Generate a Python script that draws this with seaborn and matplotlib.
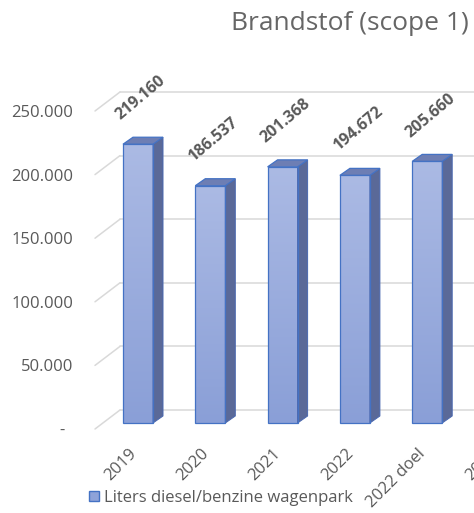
import numpy as np
import pandas as pd
import matplotlib
matplotlib.use("Agg")
import matplotlib.pyplot as plt
import seaborn as sns
from matplotlib.patches import Polygon, Patch
from matplotlib.colors import LinearSegmentedColormap

# ---- data ----
categories = ["2019", "2020", "2021", "2022", "2022 doel", "2023"]
values = [219160, 186537, 201368, 194672, 205660]
value_labels = ["219.160", "186.537", "201.368", "194.672", "205.660"]
y_ticks = [0, 50000, 100000, 150000, 200000, 250000]
y_tick_labels = ["-", "50.000", "100.000", "150.000", "200.000", "250.000"]
title = "Brandstof (scope 1)"
series_name = "Liters diesel/benzine wagenpark"

sns.set_theme(style="white")
plt.rcParams['font.family'] = ['Open Sans', 'DejaVu Sans']

W, H = 474, 513
DPI = 100
fig = plt.figure(figsize=(W / DPI, H / DPI), dpi=DPI)
ax = fig.add_axes([0, 0, 1, 1])

df = pd.DataFrame({"cat": categories[:len(values)], "val": values})
sns.barplot(data=df, x="cat", y="val", order=categories, width=0.415,
            color="#98aadb", edgecolor="#4472c4", linewidth=0.9,
            saturation=1, ax=ax, zorder=3)

# layout: pixel geometry of the (cropped) Excel 3D column chart
px_cat = 72.3          # pixels per category
px_unit = 0.001272     # pixels per value unit
x0_px = 138            # pixel x of first category
y0_px = 423            # pixel y (from top) of value 0 at bar front
xlim = (-x0_px / px_cat, (W - x0_px) / px_cat)
ylim = (-(H - y0_px) / px_unit, y0_px / px_unit)
dxu = 1 / px_cat       # data units per pixel (x)
dyu = 1 / px_unit      # data units per pixel (y)

grid_c = "#d9d9d9"
txt_c = "#595959"
x_wall = (120 - x0_px) / px_cat

# back wall gridlines + left wall stubs
for v, lab in zip(y_ticks, y_tick_labels):
    ax.plot([x_wall, xlim[1] + 1], [v + 13 * dyu] * 2, color=grid_c, lw=1.1, zorder=1)
    ax.plot([x_wall - 25 * dxu, x_wall], [v - 6 * dyu, v + 13 * dyu],
            color=grid_c, lw=1.1, zorder=1)
    extra = 8 if lab == "-" else 0
    ax.text(x_wall - (25 + 22 + extra) * dxu, v - 8 * dyu, lab, ha="right", va="center",
            fontsize=12, color=txt_c)

# 3D faces + gradient for the bars
cmap = LinearSegmentedColormap.from_list("g", ["#8a9fd7", "#abbae4"])
grad = np.linspace(0, 1, 256).reshape(-1, 1)
bdx, bdy = 10 * dxu, 7 * dyu
bars = [p for p in ax.patches if np.isfinite(p.get_height()) and p.get_height() > 0]
for p in bars:
    bx, bw, bh = p.get_x(), p.get_width(), p.get_height()
    im = ax.imshow(grad, extent=[bx, bx + bw, 0, bh], origin="lower", aspect="auto",
                   cmap=cmap, zorder=3.2, interpolation="bilinear")
    im.set_clip_path(p)
    p.set_facecolor("none")
    p.set_zorder(3.5)
    side = Polygon([(bx + bw, 0), (bx + bw + bdx, bdy), (bx + bw + bdx, bh + bdy), (bx + bw, bh)],
                   closed=True, facecolor="#5a6998", edgecolor="#4a68b0", lw=0.7, zorder=3.3)
    top = Polygon([(bx, bh), (bx + bw, bh), (bx + bw + bdx, bh + bdy), (bx + bdx, bh + bdy)],
                  closed=True, facecolor="#6d7eb4", edgecolor="#4472c4", lw=0.9, zorder=3.4)
    ax.add_patch(side)
    ax.add_patch(top)

# data labels
for p, lab in zip(bars, value_labels):
    ax.annotate(lab, (p.get_x() + p.get_width() / 2, p.get_height()), xytext=(3, 46),
                textcoords="offset pixels", ha="center", va="center", rotation=40,
                rotation_mode="anchor", fontsize=11.5, fontweight="bold", color=txt_c,
                annotation_clip=False)

# category labels
for i, cat in enumerate(categories):
    ax.annotate(cat, (i, 0), xytext=(-4, -28), textcoords="offset pixels",
                ha="right", va="center", rotation=45, rotation_mode="anchor",
                fontsize=12, color=txt_c, annotation_clip=False)

ax.set_xlim(*xlim)
ax.set_ylim(*ylim)
ax.set_axis_off()

fig.text(231 / W, 1 - 24 / H, title, ha="left", va="center", fontsize=19, color="#666666")

fig.legend(handles=[Patch(facecolor="#8fa3d9", edgecolor="#4472c4", label=series_name)],
           loc="center left", bbox_to_anchor=(89 / W, 1 - 498 / H), frameon=False,
           fontsize=12, handlelength=0.6, handleheight=0.6, handletextpad=0.3,
           borderpad=0, borderaxespad=0, labelcolor=txt_c)

fig.savefig("out.png", dpi=DPI)
